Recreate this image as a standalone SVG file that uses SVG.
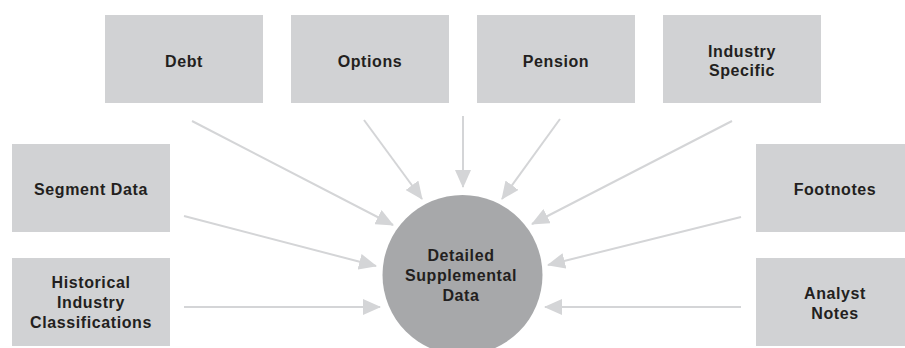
<svg xmlns="http://www.w3.org/2000/svg" width="905" height="348" viewBox="0 0 905 348">
<style>
.box{fill:#d1d2d4}
.lbl{font-family:"Liberation Sans",Arial,sans-serif;font-weight:bold;font-size:16px;letter-spacing:0.6px;fill:#231f20;text-anchor:middle}
.con{stroke:#d4d5d7;stroke-width:2;fill:none}
</style>
<defs>
<marker id="ah" markerUnits="userSpaceOnUse" markerWidth="18" markerHeight="16" viewBox="0 0 18 16" refX="17" refY="8" orient="auto">
<path d="M0,0 L18,8 L0,16 Z" fill="#d4d5d7"/>
</marker>
</defs>
<rect width="905" height="348" fill="#ffffff"/>
<g id="connectors">
<line class="con" x1="192" y1="121" x2="393" y2="225" marker-end="url(#ah)"/>
<line class="con" x1="364" y1="120" x2="422" y2="199" marker-end="url(#ah)"/>
<line class="con" x1="463" y1="116" x2="463" y2="187" marker-end="url(#ah)"/>
<line class="con" x1="560" y1="119" x2="502" y2="199" marker-end="url(#ah)"/>
<line class="con" x1="732" y1="121" x2="532" y2="224" marker-end="url(#ah)"/>
<line class="con" x1="184" y1="216" x2="376" y2="266" marker-end="url(#ah)"/>
<line class="con" x1="184" y1="307" x2="380" y2="307" marker-end="url(#ah)"/>
<line class="con" x1="741" y1="217" x2="548" y2="265" marker-end="url(#ah)"/>
<line class="con" x1="741" y1="307" x2="545" y2="307" marker-end="url(#ah)"/>
</g>
<g id="debt"><rect class="box" x="105" y="15" width="158" height="88"/><text class="lbl" x="184" y="67">Debt</text></g>
<g id="options"><rect class="box" x="291" y="15" width="158" height="88"/><text class="lbl" x="370" y="67">Options</text></g>
<g id="pension"><rect class="box" x="477" y="15" width="158" height="88"/><text class="lbl" x="556" y="67">Pension</text></g>
<g id="industry-specific"><rect class="box" x="663" y="15" width="158" height="88"/><text class="lbl" x="742" y="57">Industry</text><text class="lbl" x="742" y="76">Specific</text></g>
<g id="segment-data"><rect class="box" x="12" y="144" width="158" height="88"/><text class="lbl" x="91" y="195">Segment Data</text></g>
<g id="historical"><rect class="box" x="12" y="258" width="158" height="88"/><text class="lbl" x="91" y="288">Historical</text><text class="lbl" x="91" y="308">Industry</text><text class="lbl" x="91" y="328">Classifications</text></g>
<g id="footnotes"><rect class="box" x="756" y="144" width="158" height="88"/><text class="lbl" x="835" y="195">Footnotes</text></g>
<g id="analyst-notes"><rect class="box" x="756" y="258" width="158" height="88"/><text class="lbl" x="835" y="299">Analyst</text><text class="lbl" x="835" y="319">Notes</text></g>
<g id="detailed-supplemental-data"><circle cx="462.5" cy="275" r="80" fill="#a7a8aa"/><text class="lbl" x="461" y="261">Detailed</text><text class="lbl" x="461" y="281">Supplemental</text><text class="lbl" x="461" y="301">Data</text></g>
</svg>
